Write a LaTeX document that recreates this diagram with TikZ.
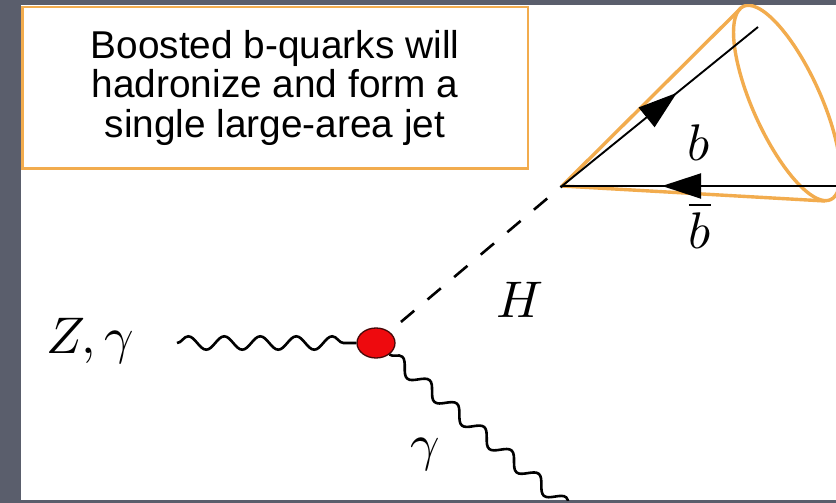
\documentclass[tikz,border=0pt]{standalone}
\usepackage{fontspec}
\newfontfamily\boxsans{Liberation Sans}
\usetikzlibrary{decorations.pathmorphing,decorations.markings,arrows.meta,shapes.geometric}
\definecolor{bgdark}{RGB}{90,94,108}
\definecolor{jetorange}{RGB}{242,172,78}
\definecolor{blobred}{RGB}{238,10,14}
\definecolor{blobedge}{RGB}{70,8,8}
\begin{document}
\begin{tikzpicture}[x=1pt,y=-1pt,
  photon/.style={draw=black, line width=2.6pt, decorate,
    decoration={snake, segment length=36pt, amplitude=6.7pt}},
  quark/.style={draw=black, line width=1.9pt},
  higgs/.style={draw=black, line width=2.6pt, dash pattern=on 17.4pt off 17.4pt},
  jet/.style={draw=jetorange, line width=3.4pt, line join=round},
  mathlabel/.style={inner sep=0pt, font=\normalsize, scale=5.15},
  arrowmark/.style={postaction={decorate, decoration={markings,
    mark=at position #1 with {\arrow{Triangle[length=39pt,width=25pt]}}}}}
]
\useasboundingbox (0,0) rectangle (836,503);
\fill[bgdark] (0,0) rectangle (836,503);
\fill[white] (21,5) rectangle (836,500);
\begin{scope}
\clip (21,5) rectangle (836,500);
% text box
\node[draw=jetorange, line width=2.2pt, minimum width=505.5pt, minimum height=161.5pt, inner sep=0pt] (tbox) at (275.25,87.75) {};
\node[font=\boxsans\fontsize{38.8}{39.5}\selectfont, align=center, inner sep=0pt] (tboxtext) at (275,87.5) {Boosted b-quarks will\\hadronize and form a\\single large-area jet};
% jet cone
\coordinate (apex) at (562,186);
\coordinate (jettop) at (740,9);
\coordinate (jetbot) at (825,201);
\draw[jet] plot[smooth cycle, samples=72, domain=0:355]
  ({787+43.57*cos(\x)+31.0*sin(\x)}, {103+96.67*cos(\x)-13.97*sin(\x)});
\draw[jet] (jettop) -- (apex) -- (jetbot);
% quark lines
\coordinate (bend) at (758,27);
\coordinate (bbarend) at (840,186);
\draw[quark, arrowmark=0.586] (apex) -- (bend);
\draw[quark, arrowmark=178pt] (bbarend) -- (apex);
% vertex
\node[ellipse, minimum width=38pt, minimum height=30pt, inner sep=0pt, fill=blobred, draw=blobedge, line width=1.3pt] (vtx) at (376,343) {};
\coordinate (zin) at (177,343);
\coordinate (gout) at (580,518);
\draw[photon] (zin) -- (vtx);
\draw[photon] (vtx) -- (gout);
\draw[higgs, shorten <=15pt] (vtx) -- (apex);
% labels
\node[mathlabel, anchor=base] (blab) at (699,160) {$b$};
\node[mathlabel, anchor=base] (bbarlab) at (700,248) {$\overline{b}$};
\node[mathlabel, anchor=base] (hlab) at (520,317) {$H$};
\node[mathlabel, anchor=base west] (zlab) at (45,353) {$Z,\gamma$};
\node[mathlabel, anchor=base] (glab) at (425,460) {$\gamma$};
\end{scope}
\end{tikzpicture}
\end{document}
